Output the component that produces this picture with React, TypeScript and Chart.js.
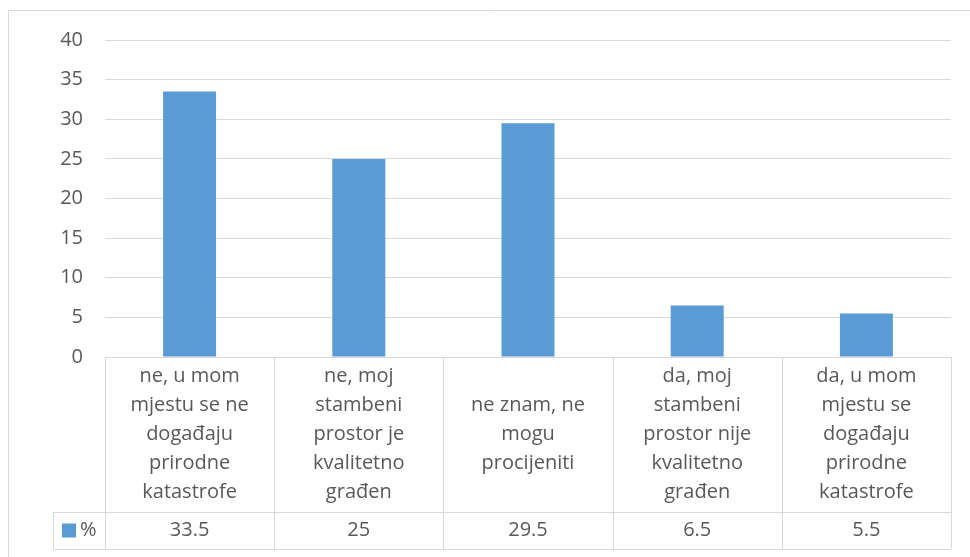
import React, { useEffect, useRef } from "react";
import { Chart, registerables } from "chart.js";

Chart.register(...registerables);

const categories: string[][] = [
  ["ne, u mom", "mjestu se ne", "događaju", "prirodne", "katastrofe"],
  ["ne, moj", "stambeni", "prostor je", "kvalitetno", "građen"],
  ["ne znam, ne", "mogu", "procijeniti"],
  ["da, moj", "stambeni", "prostor nije", "kvalitetno", "građen"],
  ["da, u mom", "mjestu se", "događaju", "prirodne", "katastrofe"],
];
const seriesName = "%";
const values: number[] = [33.5, 25, 29.5, 6.5, 5.5];
const valueLabels: string[] = ["33.5", "25", "29.5", "6.5", "5.5"];
const yTicks = { min: 0, max: 40, step: 5 };

const FONT = "'Open Sans', 'Noto Sans', sans-serif";
const TEXT = "#595959";
const LINE = "#d9d9d9";
const BAR = "#5b9bd5";

const tablePlugin = {
  id: "dataTable",
  afterDraw(chart: any) {
    const ctx = chart.ctx as CanvasRenderingContext2D;
    const ca = chart.chartArea;
    const n = values.length;
    const colW = (ca.right - ca.left) / n;
    const row1Top = ca.bottom;
    const row1H = 155;
    const row2Top = row1Top + row1H;
    const row2H = 37;
    const legendLeft = 53;
    const px = (v: number) => Math.round(v) + 0.5;

    ctx.save();
    // outer chart border
    ctx.strokeStyle = LINE;
    ctx.lineWidth = 1;
    ctx.beginPath();
    ctx.moveTo(px(8), chart.height);
    ctx.lineTo(px(8), px(10));
    ctx.lineTo(chart.width, px(10));
    ctx.stroke();

    // table lines
    ctx.beginPath();
    ctx.moveTo(ca.left, px(row1Top));
    ctx.lineTo(ca.right, px(row1Top));
    ctx.moveTo(legendLeft, px(row2Top));
    ctx.lineTo(ca.right, px(row2Top));
    ctx.moveTo(legendLeft, px(row2Top + row2H));
    ctx.lineTo(ca.right, px(row2Top + row2H));
    for (let i = 0; i <= n; i++) {
      const x = px(ca.left + i * colW);
      ctx.moveTo(x, row1Top);
      ctx.lineTo(x, row2Top + row2H);
    }
    ctx.moveTo(px(legendLeft), row2Top);
    ctx.lineTo(px(legendLeft), row2Top + row2H);
    ctx.stroke();

    // text
    ctx.fillStyle = TEXT;
    ctx.font = `20px ${FONT}`;
    ctx.textAlign = "center";
    ctx.textBaseline = "middle";
    const lh = 29;
    const xs = chart.scales.x;
    categories.forEach((lines, i) => {
      const cx = xs.getPixelForValue(i);
      const mid = row1Top + row1H / 2;
      const start = mid - ((lines.length - 1) * lh) / 2;
      lines.forEach((t, j) => ctx.fillText(t, cx, start + j * lh));
      ctx.fillText(valueLabels[i], cx, row2Top + row2H / 2);
    });

    // legend key
    const ym = row2Top + row2H / 2;
    ctx.fillStyle = BAR;
    ctx.fillRect(62, ym - 7, 14, 14);
    ctx.fillStyle = TEXT;
    ctx.textAlign = "left";
    ctx.fillText(seriesName, 80, ym);
    ctx.restore();
  },
};

export default function App() {
  const ref = useRef<HTMLCanvasElement | null>(null);
  useEffect(() => {
    document.body.style.margin = "0";
    const chart = new Chart(ref.current!, {
      type: "bar",
      data: {
        labels: categories.map((c) => c.join(" ")),
        datasets: [
          {
            label: seriesName,
            data: values,
            backgroundColor: BAR,
            barPercentage: 0.313,
            categoryPercentage: 1,
          },
        ],
      },
      options: {
        animation: false,
        responsive: false,
        layout: { padding: { left: 0, right: 19, top: 40, bottom: 200 } },
        plugins: { legend: { display: false }, tooltip: { enabled: false } },
        scales: {
          x: { display: false },
          y: {
            min: yTicks.min,
            max: yTicks.max,
            afterFit: (s: any) => {
              s.width = 105;
            },
            ticks: {
              stepSize: yTicks.step,
              padding: 22,
              color: TEXT,
              font: { family: FONT, size: 20 },
            },
            grid: { color: LINE, lineWidth: 1, drawTicks: false },
            border: { display: false },
          },
        },
      },
      plugins: [tablePlugin],
    });
    return () => chart.destroy();
  }, []);
  return (
    <div style={{ position: "absolute", left: 0, top: 0, width: 970, height: 557 }}>
      <canvas ref={ref} width={970} height={557} style={{ width: 970, height: 557 }} />
    </div>
  );
}
